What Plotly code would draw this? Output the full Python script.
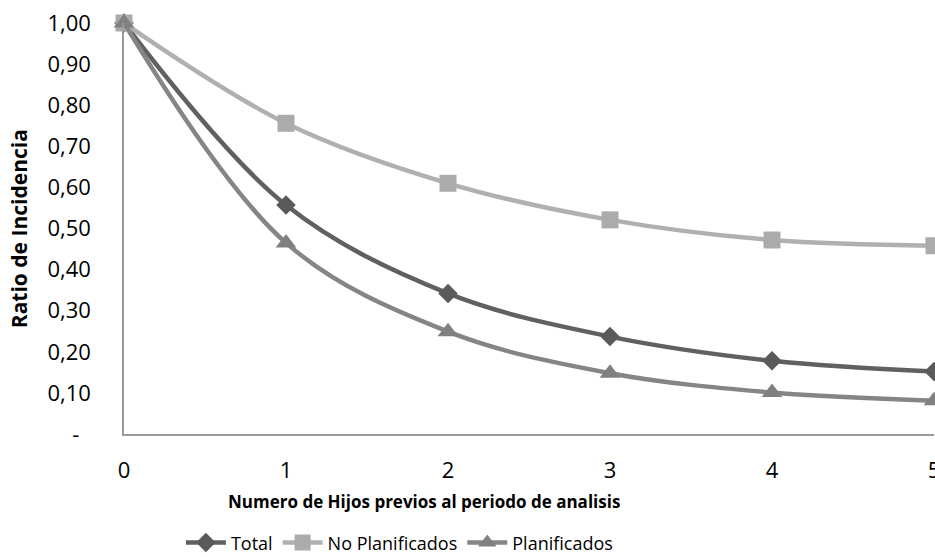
import plotly.graph_objects as go

# Number of previous children (x) and incidence ratios per group
hijos = [0, 1, 2, 3, 4, 5]
total = [1.00, 0.557, 0.342, 0.237, 0.178, 0.152]
no_planificados = [1.00, 0.756, 0.610, 0.521, 0.472, 0.458]
planificados = [1.00, 0.465, 0.249, 0.148, 0.101, 0.081]

y_ticks = [0, 0.1, 0.2, 0.3, 0.4, 0.5, 0.6, 0.7, 0.8, 0.9, 1.0]
y_tick_text = ["-\u00a0\u00a0", "0,10", "0,20", "0,30", "0,40", "0,50",
               "0,60", "0,70", "0,80", "0,90", "1,00"]

FONT = "Open Sans"

series = [
    ("Total", total, "#606060", "#5a5a5a", "diamond", 15),
    ("No Planificados", no_planificados, "#b0b0b0", "#ababab", "square", 17),
    ("Planificados", planificados, "#858585", "#808080", "triangle-up", 18),
]

fig = go.Figure()
for name, vals, lc, mc, sym, sz in series:
    fig.add_trace(go.Scatter(
        x=hijos, y=vals, name=name, mode="lines+markers",
        line=dict(color=lc, width=4.5, shape="spline", smoothing=1.0),
        marker=dict(symbol=sym, size=sz, color=mc, line=dict(width=0)),
        cliponaxis=False,
    ))

fig.update_layout(
    width=935, height=557,
    margin=dict(l=124, r=1, t=23, b=123, autoexpand=False),
    paper_bgcolor="white", plot_bgcolor="white",
    font=dict(family=FONT, color="#000000"),
    showlegend=True,
    legend=dict(orientation="h", x=0.34, xanchor="center", y=-0.265, yanchor="middle",
                font=dict(family=FONT, size=18, color="#000000"),
                itemwidth=40, tracegroupgap=0),
    xaxis=dict(range=[0, 5], tickvals=hijos, ticktext=[str(h) for h in hijos],
               showgrid=False, zeroline=False, showline=True, linecolor="#9a9a9a",
               linewidth=1.5, ticks="", ticklabelstandoff=16,
               ticklabeloverflow="allow", automargin=False,
               tickfont=dict(family=FONT, size=22, color="#000000")),
    yaxis=dict(range=[0, 1.0], tickvals=y_ticks, ticktext=y_tick_text,
               showgrid=False, zeroline=False, showline=True, linecolor="#9a9a9a",
               linewidth=1.5, ticks="", ticklabelstandoff=27, automargin=False,
               tickfont=dict(family=FONT, size=22, color="#000000")),
    annotations=[
        dict(text="<b>Numero de Hijos previos al periodo de analisis</b>",
             xref="paper", yref="paper", x=0.37, y=-0.165, xanchor="center",
             yanchor="middle", showarrow=False,
             font=dict(family=FONT, size=17, color="#000000")),
        dict(text="<b>Ratio de Incidencia</b>", textangle=-90,
             xref="paper", yref="paper", x=-0.13, y=0.5, xanchor="center",
             yanchor="middle", showarrow=False,
             font=dict(family=FONT, size=21, color="#000000")),
    ],
)

fig.write_html("out.html")
